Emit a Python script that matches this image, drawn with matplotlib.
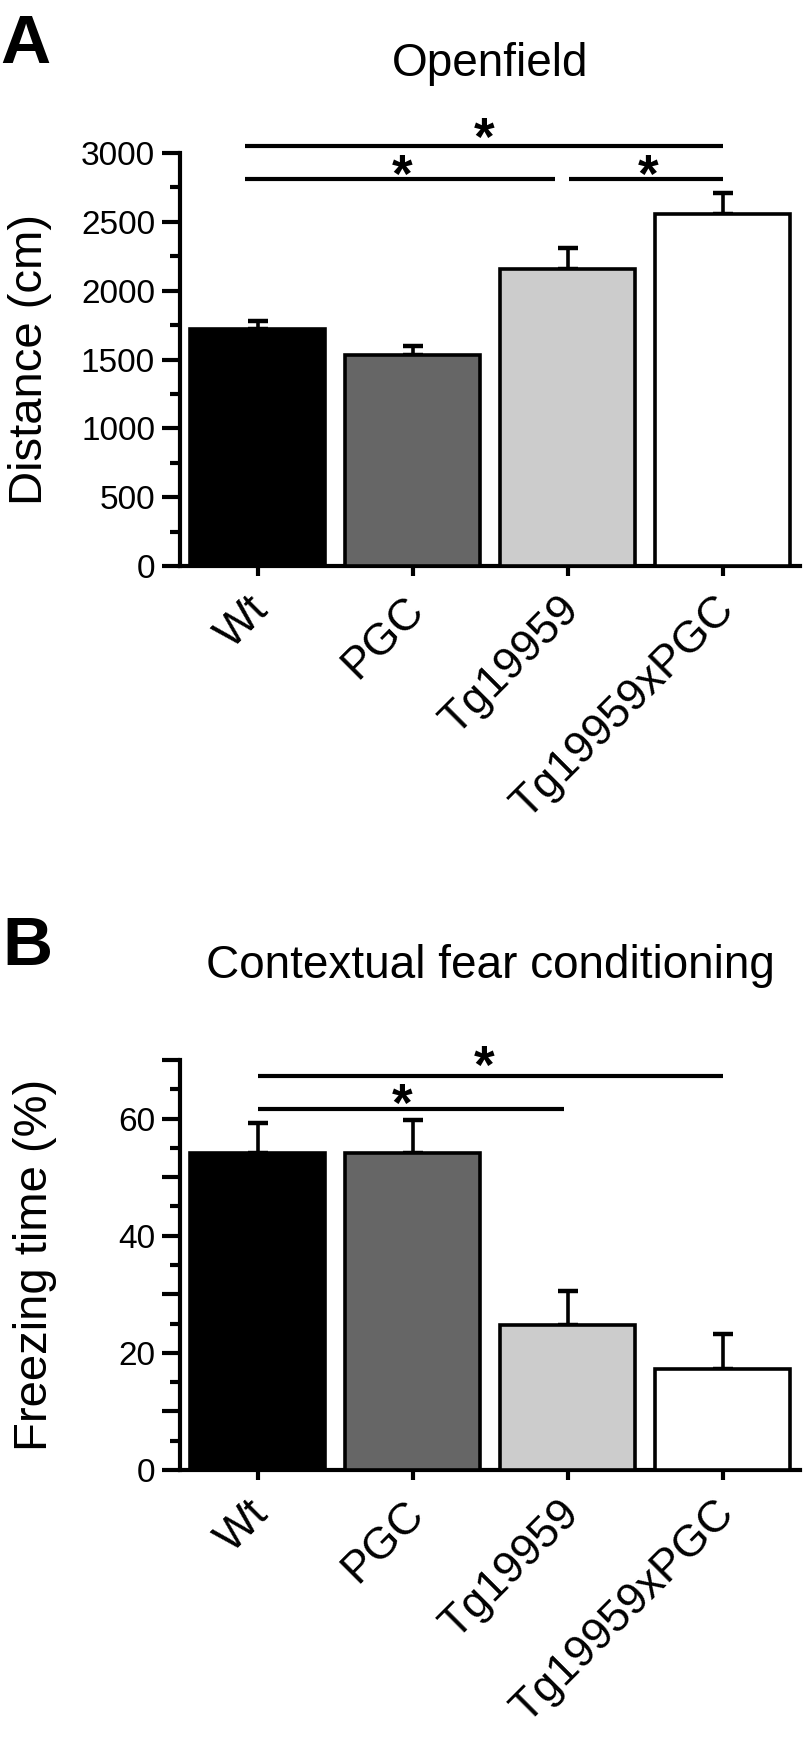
import matplotlib
matplotlib.use('Agg')
import matplotlib.pyplot as plt
import matplotlib.transforms as mtransforms
from matplotlib.ticker import MultipleLocator

plt.rcParams['font.family'] = ['Liberation Sans', 'DejaVu Sans']

# data
groups = ['Wt', 'PGC', 'Tg19959', 'Tg19959xPGC']
bar_colors = ['#000000', '#666666', '#cccccc', '#ffffff']

dist_mean = [1725, 1530, 2155, 2560]
dist_sem = [57, 65, 155, 153]

freeze_mean = [54.2, 54.1, 24.8, 17.3]
freeze_sem = [5.0, 5.7, 5.7, 6.0]

# significance: (x start, x end, line height, star x, star height)
dist_sig = [(-0.08, 3.0, 3050, 1.46, 3196),
            (-0.08, 1.92, 2810, 0.93, 2927),
            (2.01, 3.0, 2810, 2.52, 2927)]
freeze_sig = [(0.0, 3.0, 67.3, 1.46, 70.9),
              (0.0, 1.98, 61.6, 0.93, 64.4)]

W, H = 805, 1747
fig = plt.figure(figsize=(W / 100, H / 100), dpi=100)


def fx(x):
    return x / W


def fy(y):
    return 1 - y / H


def panel(rect, means, sems, ymax, major, minor, labels_every, ylabel, sig):
    ax = fig.add_axes(rect)
    x = range(len(groups))
    ax.bar(x, means, width=0.87, color=bar_colors, edgecolor='black',
           linewidth=2.6, zorder=3)
    ax.errorbar(x, means, yerr=[[0] * len(sems), sems], fmt='none',
                ecolor='black', elinewidth=2.6, capsize=7, capthick=3.2,
                zorder=2)
    ax.set_xlim(-0.5, 3.5)
    ax.set_ylim(0, ymax)
    for s in ['top', 'right']:
        ax.spines[s].set_visible(False)
    for s in ['left', 'bottom']:
        ax.spines[s].set_linewidth(3)
    ax.yaxis.set_major_locator(MultipleLocator(major))
    ax.yaxis.set_minor_locator(MultipleLocator(minor))
    ax.yaxis.set_major_formatter(
        lambda v, p: f'{v:.0f}' if round(v) % labels_every == 0 else '')
    ax.tick_params(axis='y', which='major', length=13, width=3, pad=5,
                   labelsize=24)
    ax.tick_params(axis='y', which='minor', length=7, width=3)
    ax.set_xticks(list(x))
    ax.set_xticklabels(groups, rotation=45, ha='right', va='center',
                       rotation_mode='anchor', fontsize=32)
    ax.tick_params(axis='x', length=7, width=3, pad=20)
    # nudge the rotated labels a little to the right, like the original
    shift = mtransforms.ScaledTranslation(5 / 100, 0, fig.dpi_scale_trans)
    for lab in ax.get_xticklabels():
        lab.set_transform(lab.get_transform() + shift)
    ax.set_ylabel(ylabel, fontsize=34)
    for x0, x1, yl, sx, sy in sig:
        ax.plot([x0, x1], [yl, yl], color='black', lw=3, clip_on=False,
                solid_capstyle='butt')
        ax.annotate('*', xy=(sx, sy), xytext=(0, -0.54 * 38),
                    textcoords='offset points', ha='center', va='baseline',
                    fontsize=38, fontweight='bold', annotation_clip=False)
    return ax


axA = panel([fx(180), fy(566), fx(620), 413 / H], dist_mean, dist_sem,
            3000, 250, 250, 500, 'Distance (cm)', dist_sig)
axA.yaxis.set_major_locator(MultipleLocator(500))
axA.yaxis.set_major_formatter(lambda v, p: f'{v:.0f}')
axA.yaxis.set_label_coords(-0.207, 0.5)

axB = panel([fx(180), fy(1470), fx(620), 410 / H], freeze_mean, freeze_sem,
            70, 10, 5, 20, 'Freezing time (%)', freeze_sig)
axB.yaxis.set_label_coords(-0.198, 0.5)

fig.text(fx(0), fy(63), 'A', fontsize=50, fontweight='bold', va='baseline')
fig.text(fx(490), fy(76), 'Openfield', fontsize=33, ha='center',
         va='baseline')
fig.text(fx(2), fy(965), 'B', fontsize=50, fontweight='bold', va='baseline')
fig.text(fx(490), fy(978), 'Contextual fear conditioning', fontsize=33,
         ha='center', va='baseline')

fig.savefig('out.png', dpi=100)
